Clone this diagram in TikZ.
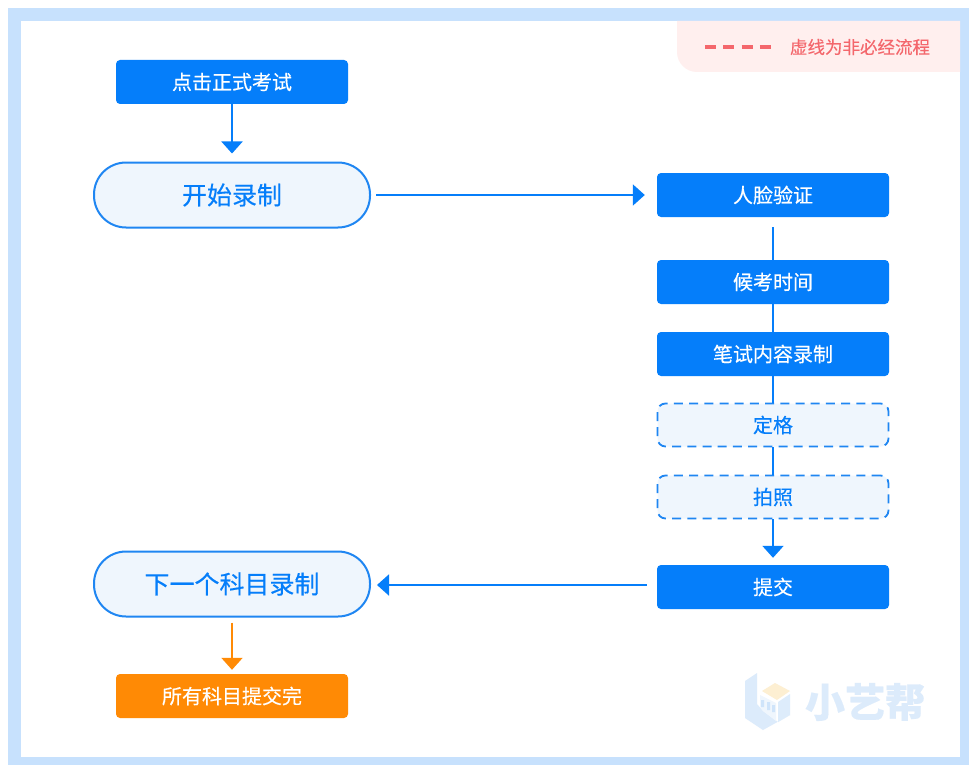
\documentclass[tikz,border=0pt]{standalone}
\usepackage{fontspec}
\setmainfont{Noto Sans CJK SC}[FakeBold=0.35]
\usetikzlibrary{arrows.meta}
\definecolor{mainblue}{HTML}{057EFA}
\definecolor{framec}{HTML}{C7E1FD}
\definecolor{lightb}{HTML}{EFF6FD}
\definecolor{strokeb}{HTML}{1F86F2}
\definecolor{orangec}{HTML}{FF8A05}
\definecolor{pinkbg}{HTML}{FFEFEE}
\definecolor{redc}{HTML}{F4676C}
\definecolor{wmb}{HTML}{DCEBFB}
\definecolor{wmb2}{HTML}{CFE4FA}
\definecolor{wmy}{HTML}{FDEFD2}
\tikzset{
  solidbox/.style={draw=none,fill=mainblue,rounded corners=4pt,minimum width=232pt,minimum height=44pt,text=white,font=\fontsize{20}{22}\selectfont,inner sep=0pt},
  orangebox/.style={solidbox,fill=orangec},
  dashbox/.style={draw=strokeb,line width=1.8pt,dash pattern=on 9pt off 6.2pt,fill=lightb,rounded corners=8pt,minimum width=231pt,minimum height=43pt,text=mainblue,font=\fontsize{20}{22}\selectfont,inner sep=0pt},
  pill/.style={draw=strokeb,line width=2pt,fill=lightb,rounded corners=32pt,minimum width=276pt,minimum height=65pt,text=mainblue,font=\fontsize{25}{27}\selectfont,inner sep=0pt},
  tiparrow/.style={draw=mainblue,line width=2pt,-{Triangle[length=12pt,width=21pt]}},
  link/.style={draw=mainblue,line width=2pt},
}
\begin{document}
\begin{tikzpicture}[x=1pt,y=-1pt]
\useasboundingbox (0,0) rectangle (969,765);
\fill[white] (0,0) rectangle (969,765);
\fill[framec] (8,8) rectangle (969,765);
\fill[white] (21,21) rectangle (960,757);
% legend
\fill[pinkbg] (677,21) -- (960,21) -- (960,72) -- (697,72) arc[start angle=90,end angle=180,radius=20] -- cycle;
\coordinate (lega) at (705,47);
\coordinate (legb) at (771,47);
\draw[redc,line width=3.2pt,dash pattern=on 11pt off 7.3pt] (lega) -- (legb);
\node[text=redc,font=\fontsize{17.5}{19}\selectfont,inner sep=0pt] (legt) at (860,47) {虚线为非必经流程};
% nodes
\node[solidbox] (click) at (232,82) {点击正式考试};
\node[pill] (start) at (232,195) {开始录制};
\node[solidbox] (face) at (773,195) {人脸验证};
\node[solidbox] (wait) at (773,282) {候考时间};
\node[solidbox] (write) at (773,354) {笔试内容录制};
\node[dashbox] (still) at (773,425) {定格};
\node[dashbox] (photo) at (773,497) {拍照};
\node[solidbox] (submit) at (773,587) {提交};
\node[pill] (next) at (232,584) {下一个科目录制};
\node[orangebox] (done) at (232,696) {所有科目提交完};
% connectors
\draw[tiparrow] (click.south) -- ([yshift=8pt]start.north);
\draw[tiparrow] ([xshift=5pt]start.east) -- ([xshift=-12pt]face.west);
\draw[link] ([yshift=-10pt]face.south) -- (wait.north);
\draw[link] (wait.south) -- (write.north);
\draw[link] (write.south) -- (still.north);
\draw[link] (still.south) -- (photo.north);
\draw[tiparrow] (photo.south) -- ([yshift=7pt]submit.north);
\draw[tiparrow] ([xshift=-10pt,yshift=2pt]submit.west) -- ([xshift=6pt,yshift=-1pt]next.east);
\draw[tiparrow,draw=orangec] ([yshift=-5pt]next.south) -- ([yshift=4pt]done.north);
% watermark logo
\fill[wmb] (745,681) -- (757,673) -- (757,704) -- (763,711) -- (778,722) -- (790,715) -- (763,730) -- (745,718) -- cycle;
\fill[wmy] (762,691) -- (775,683) -- (790,691) -- (777,700) -- cycle;
\fill[wmb2!70] (778,702) -- (790,694) -- (790,715) -- (778,722) -- cycle;
\fill[wmb!45] (760,695) -- (776,703) -- (776,721) -- (763,711) -- (760,707) -- cycle;
\fill[wmb2] (761,700) rectangle (764,707) (767,702) rectangle (770,710) (772,705) rectangle (775,712);
\node[text=wmb,font=\fontsize{40}{42}\selectfont\bfseries,inner sep=0pt] (wm) at (865,702) {小艺帮};
\end{tikzpicture}
\end{document}
